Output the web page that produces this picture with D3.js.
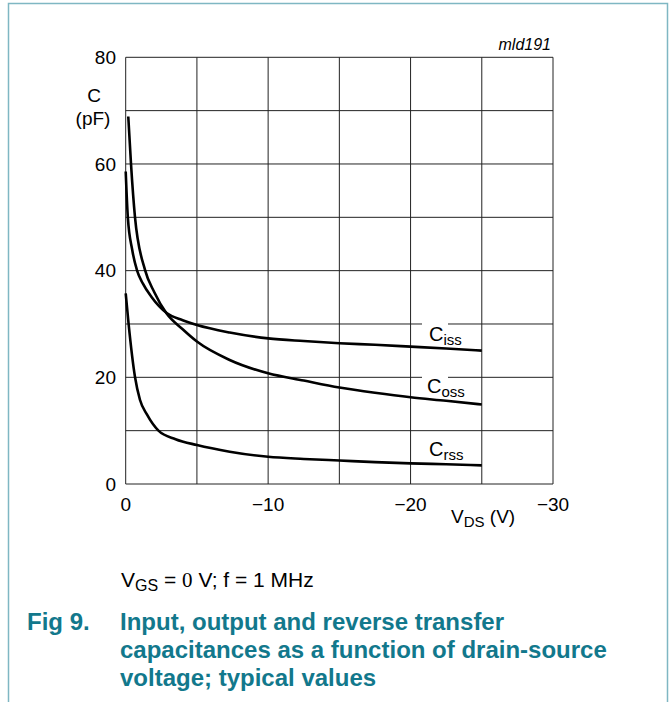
<!DOCTYPE html>
<html>
<head>
<meta charset="utf-8">
<script src="https://cdn.jsdelivr.net/npm/d3@7"></script>
<style>
  body { margin: 0; background: #fff; }
  text { font-family: "Liberation Sans", Arial, sans-serif; fill: #000; }
</style>
</head>
<body>
<div id="chart"></div>
<script>
// values (V in volts, C in pF)
const xTicks = [0, -10, -20, -30];
const yTicks = [0, 20, 40, 60, 80];

const vCiss = [0, -0.15, -0.45, -0.8, -1.2, -1.8, -2.9, -4, -5, -7.3, -10, -12.5, -15, -17.5, -20, -22.5, -25];
const ciss = [58.6, 50, 44, 40, 37.6, 35.1, 32, 30.7, 29.8, 28.4, 27.3, 26.8, 26.4, 26.1, 25.75, 25.4, 25.0];

const vCoss = [-0.18, -0.37, -0.65, -1.36, -2.0, -2.86, -4, -5, -7.3, -10, -12.5, -15, -17.5, -20, -22.5, -25];
const coss = [68.9, 60.1, 50.1, 40.1, 36, 32, 29, 26.7, 23.25, 20.75, 19.4, 18.1, 17.1, 16.25, 15.6, 14.9];

const vCrss = [0, -0.2, -0.65, -1.0, -1.5, -2.3, -3.5, -5, -7.3, -10, -12.5, -15, -17.5, -20, -22.5, -25];
const crss = [35.75, 30.1, 20.1, 15.8, 13.0, 10, 8.4, 7.3, 6.06, 5.1, 4.7, 4.4, 4.1, 3.87, 3.7, 3.5];

const seriesNames = ["iss", "oss", "rss"];

const width = 672;
const height = 702;
const teal = "#12788c";

const svg = d3.select("#chart").append("svg")
  .attr("width", width)
  .attr("height", height);

// page frame
svg.append("path")
  .attr("d", "M8.5,702 V3.5 H667.5 V702")
  .attr("fill", "none")
  .attr("stroke", "#7fb7c3")
  .attr("stroke-width", 1.5);

const x = d3.scaleLinear().domain([0, -30]).range([125.7, 553]);
const y = d3.scaleLinear().domain([0, 80]).range([484, 57.3]);

// grid every 5 V and 10 pF
const grid = svg.append("g").attr("stroke", "#222").attr("stroke-width", 1);
grid.selectAll(".gx")
  .data(d3.range(0, -30.1, -5))
  .join("line")
  .attr("x1", d => x(d)).attr("x2", d => x(d))
  .attr("y1", y(0)).attr("y2", y(80));
grid.selectAll(".gy")
  .data(d3.range(0, 80.1, 10))
  .join("line")
  .attr("x1", x(0)).attr("x2", x(-30))
  .attr("y1", d => y(d)).attr("y2", d => y(d));

// tick labels
svg.append("g").selectAll("text")
  .data(yTicks)
  .join("text")
  .attr("x", 116)
  .attr("y", d => y(d))
  .attr("dy", "0.36em")
  .attr("text-anchor", "end")
  .attr("font-size", 19)
  .text(d => d);

svg.append("g").selectAll("text")
  .data(xTicks)
  .join("text")
  .attr("x", d => x(d))
  .attr("y", 511)
  .attr("text-anchor", "middle")
  .attr("font-size", 19)
  .text(d => d === 0 ? "0" : "\u2212" + Math.abs(d));

svg.append("text").attr("x", 94).attr("y", 102)
  .attr("text-anchor", "middle").attr("font-size", 19).text("C");
svg.append("text").attr("x", 93).attr("y", 125)
  .attr("text-anchor", "middle").attr("font-size", 19).text("(pF)");

const vds = svg.append("text").attr("x", 451).attr("y", 523).attr("font-size", 19);
vds.append("tspan").text("V");
vds.append("tspan").attr("dy", 4).attr("font-size", 15).text("DS");
vds.append("tspan").attr("dy", -4).text(" (V)");

svg.append("text").attr("x", 551).attr("y", 50)
  .attr("text-anchor", "end").attr("font-size", 16)
  .attr("font-style", "italic").text("mld191");

// curves
const line = d3.line()
  .x(d => x(d[0]))
  .y(d => y(d[1]))
  .curve(d3.curveMonotoneX);

const curves = [
  d3.zip(vCiss, ciss),
  d3.zip(vCoss, coss),
  d3.zip(vCrss, crss)
];

svg.append("g").selectAll("path")
  .data(curves)
  .join("path")
  .attr("d", line)
  .attr("fill", "none")
  .attr("stroke", "#000")
  .attr("stroke-width", 2.6);

// curve labels (gaps in the grid above Ciss and Coss)
const labelGrid = [30, 20, 10];
const labelDrop = [17, 16, 25];
labelGrid.forEach((g, i) => {
  if (i < 2) {
    svg.append("rect")
      .attr("x", 422).attr("y", y(g) - 2)
      .attr("width", 26).attr("height", 4)
      .attr("fill", "#fff");
  }
  const t = svg.append("text")
    .attr("x", i === 1 ? 427 : 429)
    .attr("y", y(g) + labelDrop[i])
    .attr("font-size", 20);
  t.append("tspan").text("C");
  t.append("tspan").attr("dy", 4).attr("font-size", 15).text(seriesNames[i]);
});

// conditions and caption
const cond = svg.append("text").attr("x", 121).attr("y", 587).attr("font-size", 21);
cond.append("tspan").text("V");
cond.append("tspan").attr("dy", 4).attr("font-size", 16).text("GS");
cond.append("tspan").attr("dy", -4).text(" = ");
cond.append("tspan").attr("font-family", "Liberation Serif").text("0");
cond.append("tspan").text(" V; f = 1 MHz");

const caption = [
  "Input, output and reverse transfer",
  "capacitances as a function of drain-source",
  "voltage; typical values"
];

svg.append("text").attr("x", 27).attr("y", 630)
  .attr("font-size", 24).attr("font-weight", "bold")
  .style("fill", teal).text("Fig 9.");

svg.append("g").selectAll("text")
  .data(caption)
  .join("text")
  .attr("x", 120)
  .attr("y", (d, i) => 630 + i * 28)
  .attr("font-size", 24)
  .attr("font-weight", "bold")
  .style("fill", teal)
  .text(d => d);
</script>
</body>
</html>
